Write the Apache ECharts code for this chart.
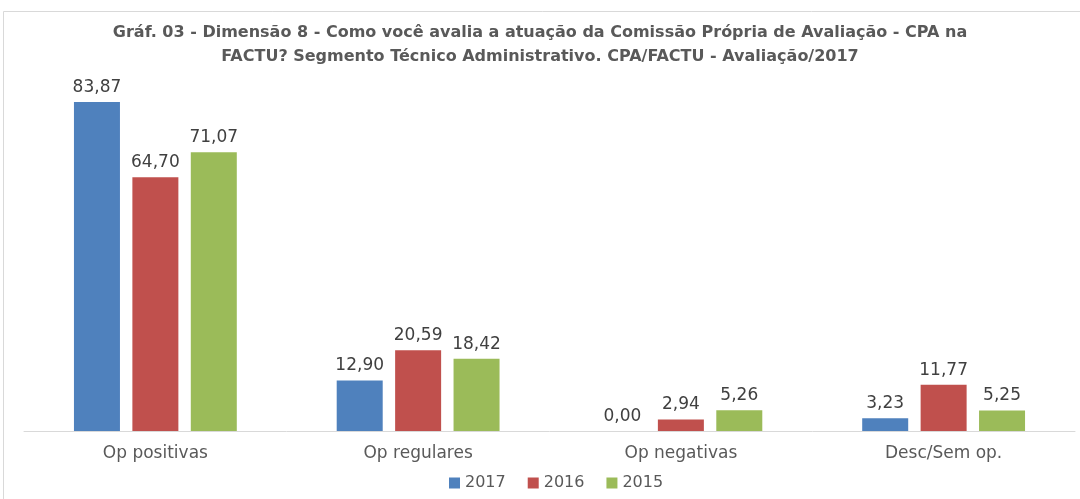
<!DOCTYPE html>
<html>
<head>
    <meta charset="utf-8">
    <title>Gráf. 03 - Dimensão 8</title>
    <script src="https://cdn.jsdelivr.net/npm/echarts@6/dist/echarts.min.js"></script>
    <style>
        body { margin: 0; background: #fff; }
    </style>
</head>
<body>
    <div id="main" style="width: 1080px;height:499px;"></div>
    <script type="text/javascript">
        // data
        var categories = ['Op positivas', 'Op regulares', 'Op negativas', 'Desc/Sem op.'];
        var years = ['2017', '2016', '2015'];
        var values2017 = [83.87, 12.90, 0.00, 3.23];
        var values2016 = [64.70, 20.59, 2.94, 11.77];
        var values2015 = [71.07, 18.42, 5.26, 5.25];
        var colors = ['#4F81BD', '#C0504D', '#9BBB59'];

        var myChart = echarts.init(document.getElementById('main'));

        function makeSeries(name, data, color) {
            return {
                name: name,
                type: 'bar',
                data: data,
                barWidth: 46,
                barGap: '27%',
                itemStyle: { color: color },
                label: {
                    show: true,
                    position: 'top',
                    distance: 6,
                    fontFamily: 'DejaVu Sans',
                    fontSize: 17,
                    color: '#404040',
                    formatter: function (p) {
                        return p.value.toFixed(2).replace('.', ',');
                    }
                }
            };
        }

        var option = {
            backgroundColor: '#fff',
            color: colors,
            title: {
                text: 'Gráf. 03 - Dimensão 8 - Como você avalia a atuação da Comissão Própria de Avaliação - CPA na\nFACTU? Segmento Técnico Administrativo. CPA/FACTU - Avaliação/2017',
                left: 'center',
                top: 16,
                textStyle: {
                    fontFamily: 'DejaVu Sans',
                    fontWeight: 'bold',
                    fontSize: 16,
                    lineHeight: 24,
                    color: '#595959'
                }
            },
            legend: {
                data: years,
                bottom: 3,
                left: 444,
                icon: 'rect',
                itemWidth: 11,
                itemHeight: 11,
                itemGap: 22,
                textStyle: {
                    fontFamily: 'DejaVu Sans',
                    fontSize: 16,
                    color: '#595959'
                }
            },
            grid: {
                left: 24,
                right: 5,
                top: 78,
                bottom: 68
            },
            xAxis: {
                type: 'category',
                data: categories,
                axisTick: { show: false },
                axisLine: { lineStyle: { color: '#D9D9D9', width: 1 } },
                axisLabel: {
                    margin: 14,
                    fontFamily: 'DejaVu Sans',
                    fontSize: 17,
                    color: '#595959'
                }
            },
            yAxis: {
                type: 'value',
                min: 0,
                max: 90,
                show: false,
                splitLine: { show: false }
            },
            graphic: [{
                type: 'rect',
                shape: { x: 3.5, y: 11.5, width: 1100, height: 520 },
                style: { fill: null, stroke: '#D9D9D9', lineWidth: 1 },
                silent: true
            }],
            series: [
                makeSeries(years[0], values2017, colors[0]),
                makeSeries(years[1], values2016, colors[1]),
                makeSeries(years[2], values2015, colors[2])
            ]
        };

        myChart.setOption(option);
    </script>
</body>
</html>
